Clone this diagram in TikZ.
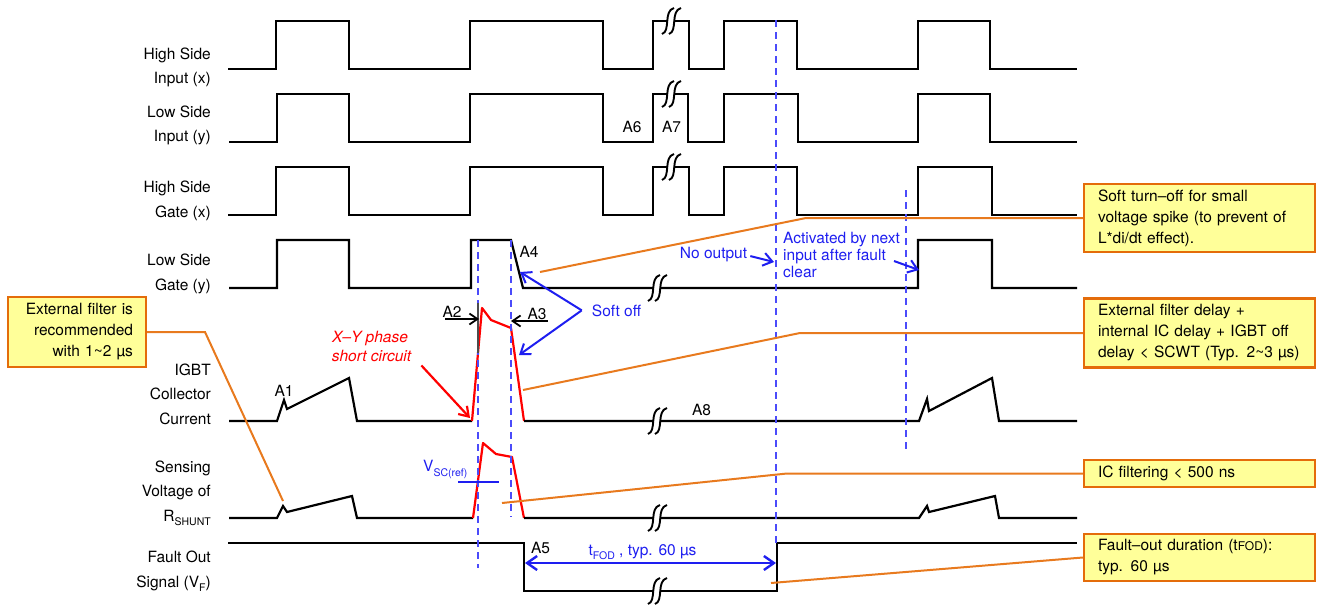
\documentclass[tikz,border=0pt]{standalone}
\usepackage{fontspec}
\setmainfont{TeX Gyre Heros}
\usetikzlibrary{arrows.meta}
\definecolor{NoteFill}{HTML}{FFFF99}
\definecolor{NoteEdge}{HTML}{E46C0A}
\definecolor{LeadOrange}{HTML}{E87A1E}
\definecolor{TextBlue}{HTML}{1E1EF0}
\definecolor{GuideBlue}{HTML}{4B4BFA}
\definecolor{ShortRed}{HTML}{FF0000}
\newcommand\subtx[1]{\raisebox{-0.3em}{\fontsize{10.5}{10.5}\selectfont #1}}
\tikzset{
  wave/.style={line width=2.2pt, miter limit=4},
  scwave/.style={wave, ShortRed, line join=round},
  vguide/.style={GuideBlue, line width=1.3pt, dash pattern=on 7pt off 5pt},
  leader/.style={LeadOrange, line width=2pt},
  note/.style={draw=NoteEdge, fill=NoteFill, line width=2.4pt, inner xsep=14pt, inner ysep=3pt,
    text width=203pt, align=left, font=\fontsize{15.5}{21}\selectfont},
  bluetxt/.style={text=TextBlue},
  redtxt/.style={text=ShortRed, font=\fontsize{15.5}{18}\selectfont\itshape},
  bluearr/.style={TextBlue, line width=2pt, -{Straight Barb[length=9pt,width=13pt]}},
  redarr/.style={ShortRed, line width=2.2pt, -{Straight Barb[length=9pt,width=12pt]}},
  blackarr/.style={line width=1.8pt, -{Straight Barb[length=8pt,width=11pt]}},
  brkpic/.pic={
    \fill[white] (-3.75,-2.5) rectangle (3.25,2.5);
    \draw[line width=1.9pt] (-9,13) .. controls (0,10) and (-8,-10) .. (3,-13);
    \draw[line width=1.9pt] (-2,13) .. controls (7,10) and (-1,-10) .. (10,-13);
  }
}
\begin{document}
\begin{tikzpicture}[x=1pt, y=-1pt, every node/.style={font=\fontsize{15.5}{18}\selectfont, inner sep=1pt}]
  \useasboundingbox (0,0) rectangle (1317,606);
  % signal names
  \node[anchor=base east] (hinA) at (212,59) {High Side};
  \node[anchor=base east] (hinB) at (212,83.5) {Input (x)};
  \node[anchor=base east] (linA) at (212,117) {Low Side};
  \node[anchor=base east] (linB) at (212,141) {Input (y)};
  \node[anchor=base east] (hgA) at (212,192) {High Side};
  \node[anchor=base east] (hgB) at (212,217) {Gate (x)};
  \node[anchor=base east] (lgA) at (212,265) {Low Side};
  \node[anchor=base east] (lgB) at (212,290) {Gate (y)};
  \node[anchor=base east] (icA) at (212,375) {IGBT};
  \node[anchor=base east] (icB) at (212,399.5) {Collector};
  \node[anchor=base east] (icC) at (212,424) {Current};
  \node[anchor=base east] (vsA) at (212,472) {Sensing};
  \node[anchor=base east] (vsB) at (212,496.5) {Voltage of};
  \node[anchor=base east] (vsC) at (212,521) {R\subtx{SHUNT}};
  \node[anchor=base east] (foA) at (212,562) {Fault Out};
  \node[anchor=base east] (foB) at (212,587) {Signal (V\subtx{F})};

  % inputs and gates
  \draw[wave] (228,69) -| (276,21) -| (349,69) -| (470,21) -| (603,69) -| (653,21) -| (689,69) -| (724,21) -| (797,69) -| (918,21) -| (990,69) -- (1077,69);
  \draw[wave] (229,142) -| (277,94) -| (349,142) -| (470,94) -| (603,142) -| (653,94) -| (688,142) -| (724,94) -| (798,142) -| (918,94) -| (990,142) -- (1077,142);
  \draw[wave] (228,215) -| (276,167) -| (349,215) -| (470,167) -| (603,215) -| (653,167) -| (689,215) -| (724,167) -| (797,215) -| (918,167) -| (992,215) -- (1077,215);
  \draw[wave] (229,288) -| (277,240) -| (349,288) -| (471,240) -- (511,240) -- (523,288) -| (918,240) -| (992,288) -- (1077,288);

  % current, shunt voltage, fault out
  \draw[wave] (229,421) -- (277,421) -- (284,400) -- (287,409) -- (349,378) -- (357,421) -- (472,421);
  \draw[scwave] (472,421) -- (482,308) -- (491,320) -- (511,328) -- (524,421);
  \draw[wave] (524,421) -- (919,421) -- (927,399) -- (929,411) -- (992,378) -- (999,421) -- (1077,421);
  \draw[wave] (229,518) -- (277,518) -- (283,506) -- (287,512) -- (352,496) -- (357,518) -- (473,518);
  \draw[scwave] (473,518) -- (483,443) -- (496,454) -- (512,457) -- (524,518);
  \draw[wave] (524,518) -- (919,518) -- (927,506) -- (929,512) -- (995,496) -- (999,518) -- (1077,518);
  \draw[wave] (228,543) -| (524,591) -| (777,543) -- (1077,543);

  \foreach \gx/\gtop/\gbot in {478/240/568, 511/240/517, 776/20/545, 906/190/450}
    \draw[vguide] (\gx,\gtop) -- (\gx,\gbot);
  \draw[line width=1.5pt, black!70] (478,303) -- (478,353);
  \draw[TextBlue, line width=1.2pt] (458,482) -- (499,482);

  \foreach \bx/\by in {671/21, 671/94, 671/167, 657/288, 657/421, 657/518, 657/591}
    \pic at (\bx,\by) {brkpic};

  % markers
  \node[anchor=base] (a1) at (284,396) {A1};
  \node[anchor=base] (a2) at (452,317) {A2};
  \node[anchor=base] (a3) at (537,319) {A3};
  \node[anchor=base] (a4) at (529,257) {A4};
  \node[anchor=base] (a5) at (540.5,553) {A5};
  \node[anchor=base] (a6) at (632,132) {A6};
  \node[anchor=base] (a7) at (671.5,132) {A7};
  \node[anchor=base] (a8) at (701.5,415) {A8};
  \coordinate (a2tip) at (479,319);
  \coordinate (a3tip) at (511,321);
  \draw[blackarr] ([xshift=4pt]a2.south west |- a2tip) -- (a2tip);
  \draw[blackarr] (a3.south east |- a3tip) -- (a3tip);

  % blue notes
  \node[bluetxt, anchor=base] (softoff) at (616.5,316) {Soft off};
  \draw[bluearr] ([xshift=-9pt]softoff.west) -- (520,272);
  \draw[bluearr] ([xshift=-9pt]softoff.west) -- (519,355);
  \node[bluetxt, anchor=base] (noout) at (713.5,258) {No output};
  \draw[bluearr] ([xshift=2pt,yshift=-2pt]noout.east) -- (774,262);
  \node[bluetxt, anchor=base west] (act1) at (782,243) {Activated by next};
  \node[bluetxt, anchor=base west] (act2) at (782,260) {input after fault};
  \node[bluetxt, anchor=base west] (act3) at (782,277) {clear};
  \draw[bluearr] ([xshift=7pt,yshift=-5pt]act2.east) -- (919,270);
  \node[bluetxt, anchor=base west] (vsc) at (422,471.5) {V\subtx{SC(ref)}};
  \node[bluetxt, anchor=base] (tfod) at (642.5,555) {t\subtx{FOD} , typ. 60 µs};
  \coordinate (fodL) at (525,563);
  \coordinate (fodR) at (776,563);
  \draw[bluearr, line width=2.4pt, {Straight Barb[length=10pt,width=14pt]}-{Straight Barb[length=10pt,width=14pt]}] (fodL) -- (fodR);

  \node[redtxt, anchor=base] (xy1) at (370,342.5) {X--Y phase};
  \node[redtxt, anchor=base] (xy2) at (371.5,361) {short circuit};
  \draw[redarr] ([xshift=9pt,yshift=-10pt]xy2.east) -- (470,418);

  % callouts
  \node[note, text width=112pt, align=right, inner xsep=13pt, minimum height=70pt] (nFilt) at (77,332)
    {External filter is\\recommended\\with 1\textasciitilde 2 µs};
  \node[note, minimum height=68pt] (nSoft) at (1199.5,218)
    {Soft turn--off for small\\voltage spike (to prevent of\\L*di/dt effect).};
  \node[note, minimum height=69pt] (nDelay) at (1199.5,333)
    {External filter delay +\\internal IC delay + IGBT off\\delay < SCWT (Typ. 2\textasciitilde 3 µs)};
  \node[note, minimum height=27pt] (nIC) at (1199.5,473.5) {IC filtering < 500 ns};
  \node[note, minimum height=47pt] (nFOD) at (1199.5,557.5)
    {Fault--out duration (t{\fontsize{12}{12}\selectfont FOD}):\\typ. 60 µs};
  \draw[leader] (nFilt.east) -- (205,332) -- (283,501);
  \draw[leader] (nSoft.west) -- (806,218) -- (540,272);
  \draw[leader] (nDelay.west) -- (800,333) -- (523,390);
  \draw[leader] (nIC.west) -- (787,473.5) -- (502,503);
  \draw[leader] (nFOD.west) -- (771,583);
\end{tikzpicture}
\end{document}
